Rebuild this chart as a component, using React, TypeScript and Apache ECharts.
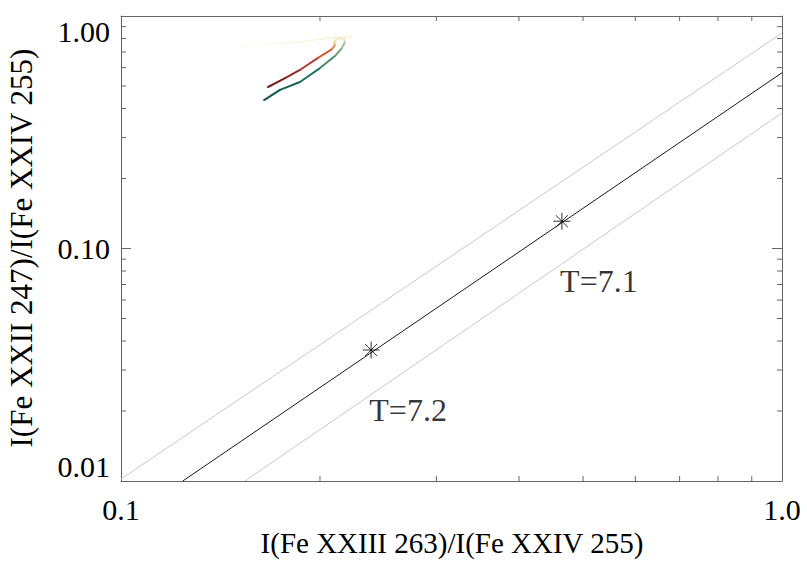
import React, { useEffect, useRef } from "react";
import * as echarts from "echarts";

// ---- data ----
const xMinorTicks = [0.2, 0.3, 0.4, 0.5, 0.6, 0.7, 0.8, 0.9];
const yMinorTicks = [0.02, 0.03, 0.04, 0.05, 0.06, 0.07, 0.08, 0.09, 0.2, 0.3, 0.4, 0.5, 0.6, 0.7, 0.8, 0.9];

const centralLine = [[0.124, 0.01], [1.0, 0.57]];
const upperLine = [[0.1, 0.0102], [1.0, 0.845]];
const lowerLine = [[0.154, 0.01], [1.0, 0.383]];

const starX = [0.239, 0.4645];
const starY = [0.0366, 0.131];
const starLabels = ["T=7.2", "T=7.1"];

const redX = [0.1669, 0.1771, 0.1865, 0.1986, 0.2086, 0.2107, 0.2100, 0.2122, 0.2182, 0.2236];
const redY = [0.495, 0.541, 0.586, 0.660, 0.721, 0.750, 0.773, 0.796, 0.812, 0.820];
const redColors = ["#7c1c1c", "#922824", "#b03c2c", "#cf5c38", "#e58652", "#f0b57a", "#f7dcae", "#faedcf", "#fcf5e3"];

const greenX = [0.1646, 0.1740, 0.1865, 0.2000, 0.2107, 0.2159, 0.2182, 0.2174, 0.2130, 0.2000, 0.1865, 0.1740, 0.1623, 0.1514];
const greenY = [0.435, 0.481, 0.520, 0.597, 0.673, 0.728, 0.773, 0.796, 0.812, 0.796, 0.773, 0.765, 0.750, 0.743];
const greenColors = ["#0b5949", "#146454", "#24735e", "#43896a", "#6ea67a", "#a2c68c", "#d2dfa8", "#efeccb", "#f8f3dc", "#fbf6e5", "#fcf8ea", "#fdfaef", "#fefcf4"];

const X_TITLE = "I(Fe XXIII 263)/I(Fe XXIV 255)";
const Y_TITLE = "I(Fe XXII 247)/I(Fe XXIV 255)";

const FONT = "Liberation Serif, Times New Roman, serif";
const AXIS_COLOR = "#666";

function segmentSeries(xs: number[], ys: number[], colors: string[]) {
  const out: any[] = [];
  for (let i = 0; i < xs.length - 1; i++) {
    out.push({
      type: "line",
      data: [[xs[i], ys[i]], [xs[i + 1], ys[i + 1]]],
      showSymbol: false,
      symbol: "none",
      silent: true,
      lineStyle: { color: colors[i], width: 2, cap: "round" },
      z: 3,
    });
  }
  return out;
}

export default function App() {
  const ref = useRef<HTMLDivElement>(null);
  useEffect(() => {
    const chart = echarts.init(ref.current!, undefined, { renderer: "svg" });
    const logAxisBase = {
      type: "log",
      logBase: 10,
      axisLine: { show: true, lineStyle: { color: AXIS_COLOR, width: 1 } },
      axisTick: { show: true, inside: true, length: 10, lineStyle: { color: AXIS_COLOR } },
      splitLine: { show: false },
      minorTick: { show: false },
    };
    const option: any = {
      animation: false,
      backgroundColor: "#fff",
      textStyle: { fontFamily: FONT },
      grid: { left: 121, right: 25, top: 16, bottom: 81, containLabel: false },
      graphic: [
        {
          type: "text",
          x: 452,
          y: 543,
          silent: true,
          style: {
            text: X_TITLE,
            fontSize: 29,
            fontFamily: FONT,
            fill: "#000",
            align: "center",
            verticalAlign: "middle",
            textAlign: "center",
            textVerticalAlign: "middle",
          },
        },
        {
          type: "text",
          x: 21,
          y: 248,
          rotation: Math.PI / 2,
          silent: true,
          style: {
            text: Y_TITLE,
            fontSize: 31,
            fontFamily: FONT,
            fill: "#000",
            align: "center",
            verticalAlign: "middle",
            textAlign: "center",
            textVerticalAlign: "middle",
          },
        },
      ],
      xAxis: [
        {
          ...logAxisBase,
          min: 0.1,
          max: 1,
          position: "bottom",
          axisLabel: {
            color: "#000",
            fontSize: 30,
            fontFamily: FONT,
            margin: 13,
            formatter: (v: number) => Number(v).toFixed(1),
          },
        },
        {
          ...logAxisBase,
          min: 0.1,
          max: 1,
          position: "top",
          axisLabel: { show: false },
        },
      ],
      yAxis: [
        {
          ...logAxisBase,
          min: 0.01,
          max: 1,
          position: "left",
          axisLabel: {
            color: "#000",
            fontSize: 30,
            fontFamily: FONT,
            margin: 11,
            verticalAlignMinLabel: "bottom",
            verticalAlignMaxLabel: "top",
            formatter: (v: number) => Number(v).toFixed(2),
          },
        },
        {
          ...logAxisBase,
          min: 0.01,
          max: 1,
          position: "right",
          axisLabel: { show: false },
        },
      ],
      series: [
        {
          type: "custom",
          coordinateSystem: "cartesian2d",
          silent: true,
          clip: false,
          data: xMinorTicks.map((v) => [v, 0.1]),
          encode: { x: 0, y: 1 },
          renderItem: (params: any, api: any) => {
            const px = api.coord([api.value(0), 0.1])[0];
            const cs = params.coordSys;
            const st = { stroke: AXIS_COLOR, lineWidth: 1 };
            return {
              type: "group",
              children: [
                { type: "line", shape: { x1: px, y1: cs.y + cs.height, x2: px, y2: cs.y + cs.height - 5 }, style: st },
                { type: "line", shape: { x1: px, y1: cs.y, x2: px, y2: cs.y + 5 }, style: st },
              ],
            };
          },
        },
        {
          type: "custom",
          coordinateSystem: "cartesian2d",
          silent: true,
          clip: false,
          data: yMinorTicks.map((v) => [0.5, v]),
          encode: { x: 0, y: 1 },
          renderItem: (params: any, api: any) => {
            const py = api.coord([0.5, api.value(1)])[1];
            const cs = params.coordSys;
            const st = { stroke: AXIS_COLOR, lineWidth: 1 };
            return {
              type: "group",
              children: [
                { type: "line", shape: { x1: cs.x, y1: py, x2: cs.x + 5, y2: py }, style: st },
                { type: "line", shape: { x1: cs.x + cs.width, y1: py, x2: cs.x + cs.width - 5, y2: py }, style: st },
              ],
            };
          },
        },
        {
          type: "line",
          data: upperLine,
          showSymbol: false,
          symbol: "none",
          silent: true,
          lineStyle: { color: "#c8c8c8", width: 1 },
        },
        {
          type: "line",
          data: lowerLine,
          showSymbol: false,
          symbol: "none",
          silent: true,
          lineStyle: { color: "#c8c8c8", width: 1 },
        },
        {
          type: "line",
          data: centralLine,
          showSymbol: false,
          symbol: "none",
          silent: true,
          lineStyle: { color: "#1a1a1a", width: 1 },
        },
        {
          type: "scatter",
          silent: true,
          symbol: "path://M0,8L16,8M8,0L8,16M2.34,2.34L13.66,13.66M2.34,13.66L13.66,2.34",
          symbolSize: 17,
          itemStyle: { color: "rgba(0,0,0,0)", borderColor: "#000", borderWidth: 1 },
          data: starX.map((x, i) => ({ value: [x, starY[i]], name: starLabels[i] })),
          label: {
            show: true,
            position: "inside",
            offset: [37, 60],
            formatter: (p: any) => p.name,
            color: "#000",
            fontSize: 32,
            fontFamily: FONT,
          },
          z: 4,
        },
        ...segmentSeries(redX, redY, redColors),
        ...segmentSeries(greenX, greenY, greenColors),
      ],
    };
    chart.setOption(option);
    return () => chart.dispose();
  }, []);
  return (
    <div
      ref={ref}
      style={{ position: "fixed", left: 0, top: 0, width: 807, height: 562, background: "#fff" }}
    />
  );
}
